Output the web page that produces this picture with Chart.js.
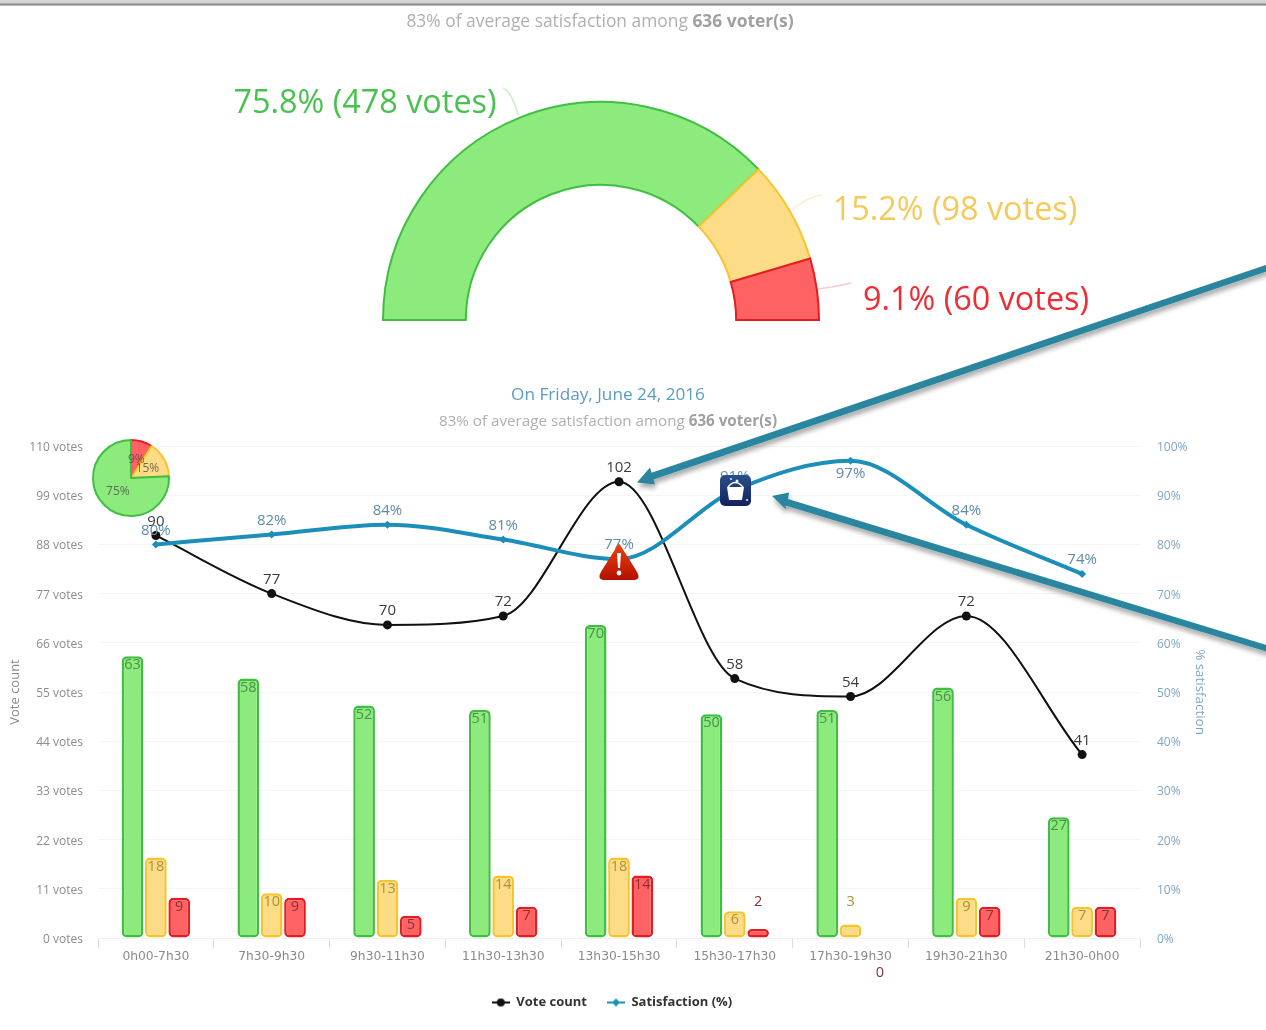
<!DOCTYPE html>
<html lang="en">
<head>
  <meta charset="UTF-8">
  <title>Satisfaction by time slot</title>
  <script src="https://cdn.jsdelivr.net/npm/chart.js@4"></script>
  <style>
    * { box-sizing: border-box; margin: 0; padding: 0; }
    html, body { width: 1266px; height: 1030px; overflow: hidden; background: #fff; }
    body { position: relative; font-family: 'Open Sans', sans-serif; }
    #page { position: absolute; left: 0; top: 0; width: 1266px; height: 1030px; filter: blur(0.35px); }
    .topbar { position: absolute; left: 0; top: 0; width: 1266px; height: 6px;
      background: linear-gradient(#d4d4d4 0, #d4d4d4 50%, #8c8c8c 65%, #8c8c8c 85%, #eee 100%); }
    .txt { position: absolute; white-space: nowrap; transform: translate(-50%, -50%); }
    .sub { color: #b0b0b0; }
    .sub b { color: #a0a0a0; }
    .gauge-label { font-size: 32.4px; }
    canvas { position: absolute; display: block; }
    #mainChart { left: 0; top: 0; }
    #gaugeChart { left: 376px; top: 93px; }
    #pieChart { left: 86px; top: 433px; }
    svg { position: absolute; left: 0; top: 0; }
  </style>
</head>
<body>
<div id="page">
  <div class="topbar"></div>
  <div class="txt sub" style="left:600px;top:20px;font-size:17.4px">83% of average satisfaction among <b>636 voter(s)</b></div>

  <canvas id="mainChart" width="1266" height="1030"></canvas>
  <canvas id="gaugeChart" width="450" height="232"></canvas>
  <canvas id="pieChart" width="90" height="90"></canvas>

  <div class="txt gauge-label" style="left:365px;top:100px;color:#49c14e">75.8% (478 votes)</div>
  <div class="txt gauge-label" style="left:955px;top:207px;color:#f5c95a">15.2% (98 votes)</div>
  <div class="txt gauge-label" style="left:976px;top:297px;color:#ee2c34">9.1% (60 votes)</div>

  <div class="txt" style="left:608px;top:393px;font-size:17.2px;color:#5b9cc4">On Friday, June 24, 2016</div>
  <div class="txt sub" style="left:608px;top:420px;font-size:15.2px">83% of average satisfaction among <b>636 voter(s)</b></div>

  <svg width="1266" height="1030" viewBox="0 0 1266 1030">
    <defs>
      <filter id="shadow" x="-10%" y="-10%" width="120%" height="130%">
        <feDropShadow dx="1" dy="4" stdDeviation="2.5" flood-color="#000" flood-opacity="0.35"/>
      </filter>
      <linearGradient id="warn" x1="0" y1="0" x2="0" y2="1">
        <stop offset="0" stop-color="#e8400f"/><stop offset="1" stop-color="#b51200"/>
      </linearGradient>
      <linearGradient id="navy" x1="0" y1="0" x2="0" y2="1">
        <stop offset="0" stop-color="#2b4f8c"/><stop offset="1" stop-color="#14205e"/>
      </linearGradient>
    </defs>

    <!-- connectors of the gauge labels -->
    <path d="M503 88 Q512 92 518 115" fill="none" stroke="#cdeec8" stroke-width="1.5"/>
    <path d="M792 210 Q806 198 821 195" fill="none" stroke="#fbeec8" stroke-width="1.5"/>
    <path d="M818 289 Q835 287 851 283" fill="none" stroke="#f8c8cc" stroke-width="1.5"/>

    <!-- warning icon -->
    <path d="M619 545 L636 572 Q640 579 634 579 L604 579 Q598 579 602 572 Z" fill="url(#warn)" stroke="url(#warn)" stroke-width="2" stroke-linejoin="round"/>
    <path d="M617 553 L621 553 L620 568 L618 568 Z" fill="#fff"/>
    <circle cx="619" cy="573" r="2.4" fill="#fff"/>

    <!-- cleaning icon -->
    <rect x="720" y="475" width="31" height="31" rx="5" fill="url(#navy)"/>
    <path d="M727 487 L744 487 L742 500 L729 500 Z" fill="#fff"/>
    <path d="M728 487 Q735 478 743 487" fill="none" stroke="#fff" stroke-width="1.4"/>
    <circle cx="737" cy="481" r="1.5" fill="#cfe"/><circle cx="731" cy="479" r="1" fill="#cfe"/>
    <circle cx="747" cy="500" r="1" fill="#cfe"/>

    <!-- call-out arrows -->
    <g filter="url(#shadow)" fill="#2a859f">
      <path d="M1268 264.2 L1268 270.9 L653.5 479.5 L655 484.5 L637 482.5 L650 467.5 L651.5 472.7 Z"/>
      <path d="M1268 645.5 L1268 652 L785.5 505.5 L786 509.5 L772 496 L789 492.5 L788 499 Z"/>
    </g>
  </svg>
</div>

<script>
  // time slots
  const categories = ['0h00-7h30','7h30-9h30','9h30-11h30','11h30-13h30','13h30-15h30','15h30-17h30','17h30-19h30','19h30-21h30','21h30-0h00'];
  // votes per slot
  const voteCount = [90,77,70,72,102,58,54,72,41];
  const satisfaction = [80,82,84,81,77,91,97,84,74];
  const goodVotes = [63,58,52,51,70,50,51,56,27];
  const mediumVotes = [18,10,13,14,18,6,3,9,7];
  const badVotes = [9,9,5,7,14,2,0,7,7];
  // gauge and small pie
  const gaugeShares = [75.8,15.2,9.1];
  const pieShares = [9,15,75];

  const font = "'Open Sans', sans-serif";
  const green = { fill: '#8dea7c', line: '#3fbf42', text: '#4a8f4a' };
  const yellow = { fill: '#fddc88', line: '#f6c52e', text: '#a8923c' };
  const red = { fill: '#ff6262', line: '#e51c24', text: '#8e2f33' };
  const black = '#111111';
  const blue = '#1b8fb9';

  function legendMark(color, diamond) {
    const c = document.createElement('canvas');
    c.width = 18; c.height = 12;
    const g = c.getContext('2d');
    g.fillStyle = color;
    g.fillRect(0, 5, 18, 2);
    g.beginPath();
    if (diamond) {
      g.moveTo(9, 2); g.lineTo(13, 6); g.lineTo(9, 10); g.lineTo(5, 6);
    } else {
      g.arc(9, 6, 4, 0, Math.PI * 2);
    }
    g.fill();
    return c;
  }

  // value labels: inside the top of the bars, above the line points
  const valueLabels = {
    id: 'valueLabels',
    afterDatasetsDraw(chart) {
      const ctx = chart.ctx;
      ctx.save();
      ctx.textAlign = 'center';
      ctx.textBaseline = 'middle';
      chart.data.datasets.forEach((ds, i) => {
        ctx.font = (ds.type === 'bar' ? '14.5px ' : '15px ') + font;
        chart.getDatasetMeta(i).data.forEach((el, j) => {
          const v = ds.data[j];
          let x = el.x, y;
          if (ds.type === 'bar') {
            if (v === 0) { x += 6; y = el.y + 35; }
            else if (v <= 3) y = chart.scales.y.getPixelForValue(8);
            else y = el.y + 9;
          } else {
            y = v >= 97 && ds.yAxisID === 'y1' ? el.y + 13 : el.y - 14;
          }
          ctx.fillStyle = ds.labelColor;
          ctx.fillText(v + (ds.labelSuffix || ''), x, y);
        });
      });
      ctx.restore();
    }
  };

  function barSet(label, data, c) {
    return {
      type: 'bar', label, data, yAxisID: 'y', order: 3,
      backgroundColor: c.fill, borderColor: c.line, borderWidth: 2.5,
      borderRadius: 5, borderSkipped: false, labelColor: c.text,
      categoryPercentage: 0.605, barPercentage: 0.93
    };
  }

  new Chart(document.getElementById('mainChart'), {
    data: {
      labels: categories,
      datasets: [
        {
          type: 'line', label: 'Vote count', data: voteCount, yAxisID: 'y', order: 1,
          borderColor: black, backgroundColor: black, borderWidth: 2,
          pointRadius: 4.5, pointBackgroundColor: black, pointBorderWidth: 0,
          cubicInterpolationMode: 'monotone', labelColor: '#3c3c3c', legendMark: legendMark(black, false)
        },
        {
          type: 'line', label: 'Satisfaction (%)', data: satisfaction, yAxisID: 'y1', order: 0,
          borderColor: blue, backgroundColor: blue, borderWidth: 4,
          pointStyle: 'rectRot', pointRadius: 4, pointBackgroundColor: blue, pointBorderWidth: 0,
          cubicInterpolationMode: 'monotone', labelColor: '#5f8ba6', labelSuffix: '%', legendMark: legendMark(blue, true)
        },
        barSet('Satisfied', goodVotes, green),
        barSet('Neutral', mediumVotes, yellow),
        barSet('Unsatisfied', badVotes, red)
      ]
    },
    options: {
      responsive: false,
      animation: false,
      layout: { padding: { left: 6, right: 48, top: 446, bottom: 11 } },
      plugins: {
        tooltip: { enabled: false },
        legend: {
          display: true,
          position: 'bottom',
          labels: {
            color: '#333',
            font: { family: font, size: 13, weight: 'bold' },
            usePointStyle: true,
            pointStyleWidth: 18,
            padding: 20,
            sort: (a, b) => a.datasetIndex - b.datasetIndex,
            generateLabels(chart) {
              const base = Chart.defaults.plugins.legend.labels.generateLabels(chart);
              return base.filter(l => l.datasetIndex < 2).map(l => {
                l.pointStyle = chart.data.datasets[l.datasetIndex].legendMark;
                return l;
              });
            }
          }
        }
      },
      scales: {
        x: {
          afterFit(s) { s.height = 38; },
          grid: { drawOnChartArea: false, drawTicks: true, tickLength: 10, color: '#dcdcdc' },
          border: { color: '#f0f0f0' },
          ticks: { color: '#8a8a8a', padding: 1, autoSkip: false, maxRotation: 0, font: { family: "'DejaVu Sans', sans-serif", size: 12.3 } }
        },
        y: {
          position: 'left', min: 0, max: 110,
          afterFit(s) { s.width = 92; },
          grid: { color: '#f5f5f5', drawTicks: false },
          border: { display: false },
          ticks: { stepSize: 11, padding: 15, labelOffset: 1.5, color: '#8c8c8c', font: { family: font, size: 12 }, callback: v => v + ' votes' },
          title: { display: true, text: 'Vote count', color: '#8c8c8c', font: { family: font, size: 13 }, padding: { top: 1, bottom: 0 } }
        },
        y1: {
          position: 'right', min: 0, max: 100,
          afterFit(s) { s.width = 78; },
          grid: { display: false, drawTicks: false },
          border: { display: false },
          ticks: { stepSize: 10, padding: 17, labelOffset: 1.5, color: '#7fa6c4', font: { family: font, size: 12 }, callback: v => v + '%' },
          title: { display: true, text: '% satisfaction', color: '#7fa6c4', font: { family: font, size: 13.4 }, padding: { top: 10, bottom: 0 } }
        }
      }
    },
    plugins: [valueLabels]
  });

  new Chart(document.getElementById('gaugeChart'), {
    type: 'doughnut',
    data: {
      labels: ['Satisfied','Neutral','Unsatisfied'],
      datasets: [{
        data: gaugeShares,
        backgroundColor: [green.fill, yellow.fill, red.fill],
        borderColor: [green.line, yellow.line, red.line],
        borderWidth: 2,
        borderJoinStyle: 'miter'
      }]
    },
    options: {
      responsive: false,
      animation: false,
      rotation: -90,
      circumference: 180,
      cutout: '62%',
      layout: { padding: { left: 6, right: 6, top: 4, bottom: 0 } },
      plugins: { legend: { display: false }, tooltip: { enabled: false } }
    }
  });

  // percent text inside the small pie
  const pieLabels = {
    id: 'pieLabels',
    afterDatasetsDraw(chart) {
      const ctx = chart.ctx;
      ctx.save();
      ctx.textAlign = 'center';
      ctx.textBaseline = 'middle';
      ctx.font = '12px ' + font;
      ctx.fillStyle = 'rgba(70,70,70,0.75)';
      chart.getDatasetMeta(0).data.forEach((arc, i) => {
        const p = arc.getCenterPoint();
        ctx.fillText(pieShares[i] + '%', p.x, p.y);
      });
      ctx.restore();
    }
  };

  new Chart(document.getElementById('pieChart'), {
    type: 'pie',
    data: {
      labels: ['Unsatisfied','Neutral','Satisfied'],
      datasets: [{
        data: pieShares,
        backgroundColor: [red.fill, yellow.fill, green.fill],
        borderColor: [red.line, yellow.line, green.line],
        borderWidth: 2
      }]
    },
    options: {
      responsive: false,
      animation: false,
      layout: { padding: 6 },
      plugins: { legend: { display: false }, tooltip: { enabled: false } }
    },
    plugins: [pieLabels]
  });
</script>
</body>
</html>
